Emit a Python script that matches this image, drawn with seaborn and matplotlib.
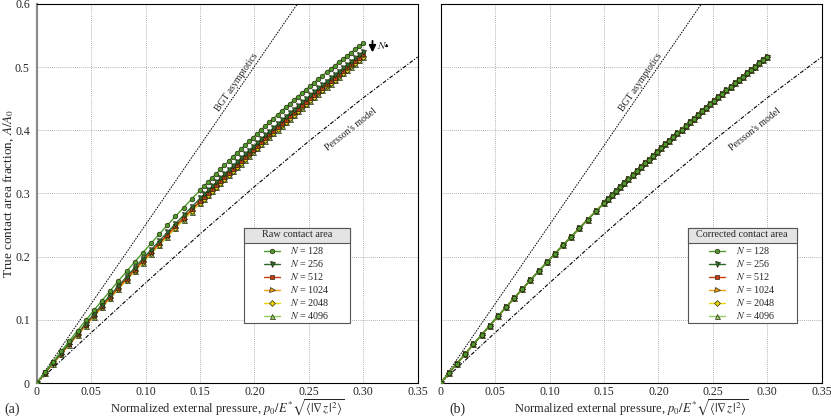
import numpy as np
import pandas as pd
import seaborn as sns
import matplotlib.pyplot as plt
from matplotlib.patches import Rectangle
from matplotlib.lines import Line2D

sns.set_style("white")
plt.rcParams["font.family"] = ["Liberation Serif", "DejaVu Serif"]
plt.rcParams["mathtext.fontset"] = "stix"

# normalized pressure at which the contact area was recorded
pressure = [
    0.0, 0.0075, 0.015, 0.0225, 0.03, 0.0375, 0.045, 0.0525, 0.06, 0.0675,
    0.075, 0.0825, 0.09, 0.0975, 0.105, 0.1125, 0.12, 0.1275, 0.135, 0.1425,
    0.15, 0.15375, 0.1575, 0.16125, 0.165, 0.16875, 0.1725, 0.17625, 0.18,
    0.18375, 0.1875, 0.19125, 0.195, 0.19875, 0.2025, 0.20625, 0.21, 0.21375,
    0.2175, 0.22125, 0.225, 0.22875, 0.2325, 0.23625, 0.24, 0.24375, 0.2475,
    0.25125, 0.255, 0.25875, 0.2625, 0.26625, 0.27, 0.27375, 0.2775, 0.28125,
    0.285, 0.28875, 0.2925, 0.29625, 0.3,
]

raw_128 = [
    0.0, 0.0170, 0.0337, 0.0503, 0.0668, 0.0830, 0.0990, 0.1149, 0.1306, 0.1461,
    0.1615, 0.1766, 0.1916, 0.2064, 0.2210, 0.2355, 0.2497, 0.2638, 0.2777, 0.2914,
    0.3050, 0.3117, 0.3183, 0.3249, 0.3315, 0.3380, 0.3445, 0.3509, 0.3573,
    0.3636, 0.3699, 0.3762, 0.3824, 0.3886, 0.3947, 0.4007, 0.4068, 0.4128,
    0.4187, 0.4246, 0.4304, 0.4362, 0.4420, 0.4477, 0.4534, 0.4590, 0.4646,
    0.4701, 0.4756, 0.4810, 0.4864, 0.4918, 0.4971, 0.5023, 0.5076, 0.5127,
    0.5178, 0.5229, 0.5280, 0.5330, 0.5379,
]
raw_256 = [
    0.0, 0.0160, 0.0319, 0.0476, 0.0632, 0.0786, 0.0939, 0.1090, 0.1240, 0.1389,
    0.1535, 0.1681, 0.1824, 0.1967, 0.2107, 0.2247, 0.2384, 0.2521, 0.2656, 0.2789,
    0.2921, 0.2986, 0.3051, 0.3115, 0.3180, 0.3243, 0.3307, 0.3370, 0.3433,
    0.3495, 0.3557, 0.3619, 0.3680, 0.3741, 0.3801, 0.3861, 0.3921, 0.3980,
    0.4039, 0.4098, 0.4156, 0.4214, 0.4271, 0.4328, 0.4385, 0.4441, 0.4497,
    0.4553, 0.4608, 0.4663, 0.4717, 0.4771, 0.4825, 0.4879, 0.4931, 0.4984,
    0.5036, 0.5088, 0.5140, 0.5191, 0.5241,
]
raw_512 = [
    0.0, 0.0157, 0.0313, 0.0468, 0.0621, 0.0773, 0.0923, 0.1072, 0.1219, 0.1366,
    0.1510, 0.1654, 0.1796, 0.1936, 0.2075, 0.2213, 0.2349, 0.2484, 0.2618, 0.2750,
    0.2881, 0.2945, 0.3010, 0.3074, 0.3138, 0.3201, 0.3264, 0.3327, 0.3390,
    0.3452, 0.3513, 0.3575, 0.3636, 0.3696, 0.3757, 0.3817, 0.3876, 0.3935,
    0.3994, 0.4053, 0.4111, 0.4169, 0.4226, 0.4283, 0.4340, 0.4397, 0.4453,
    0.4509, 0.4564, 0.4619, 0.4674, 0.4728, 0.4782, 0.4836, 0.4889, 0.4942,
    0.4995, 0.5047, 0.5099, 0.5150, 0.5201,
]
raw_1024 = [
    0.0, 0.0156, 0.0311, 0.0465, 0.0617, 0.0768, 0.0917, 0.1065, 0.1211, 0.1358,
    0.1501, 0.1644, 0.1785, 0.1924, 0.2063, 0.2200, 0.2335, 0.2470, 0.2603, 0.2735,
    0.2865, 0.2929, 0.2994, 0.3057, 0.3121, 0.3184, 0.3246, 0.3309, 0.3372,
    0.3433, 0.3494, 0.3556, 0.3617, 0.3677, 0.3738, 0.3798, 0.3857, 0.3915,
    0.3974, 0.4033, 0.4091, 0.4149, 0.4205, 0.4262, 0.4319, 0.4376, 0.4432,
    0.4488, 0.4543, 0.4598, 0.4652, 0.4706, 0.4760, 0.4814, 0.4867, 0.4920,
    0.4973, 0.5025, 0.5077, 0.5128, 0.5179,
]
raw_2048 = [
    0.0, 0.0155, 0.0309, 0.0462, 0.0613, 0.0763, 0.0911, 0.1058, 0.1204, 0.1350,
    0.1493, 0.1635, 0.1776, 0.1914, 0.2053, 0.2189, 0.2324, 0.2459, 0.2591, 0.2723,
    0.2853, 0.2917, 0.2982, 0.3045, 0.3109, 0.3172, 0.3234, 0.3297, 0.3360,
    0.3421, 0.3482, 0.3544, 0.3605, 0.3665, 0.3726, 0.3786, 0.3845, 0.3903,
    0.3962, 0.4021, 0.4079, 0.4137, 0.4193, 0.4250, 0.4307, 0.4364, 0.4420,
    0.4476, 0.4531, 0.4586, 0.4640, 0.4694, 0.4748, 0.4802, 0.4855, 0.4908,
    0.4961, 0.5013, 0.5065, 0.5116, 0.5167,
]
raw_4096 = [
    0.0, 0.0154, 0.0307, 0.0459, 0.0609, 0.0758, 0.0905, 0.1052, 0.1197, 0.1342,
    0.1485, 0.1627, 0.1767, 0.1905, 0.2044, 0.2180, 0.2315, 0.2450, 0.2582, 0.2714,
    0.2845, 0.2909, 0.2974, 0.3037, 0.3101, 0.3164, 0.3226, 0.3289, 0.3352,
    0.3413, 0.3474, 0.3536, 0.3597, 0.3657, 0.3718, 0.3778, 0.3837, 0.3895,
    0.3954, 0.4013, 0.4071, 0.4129, 0.4185, 0.4242, 0.4299, 0.4356, 0.4412,
    0.4468, 0.4523, 0.4578, 0.4632, 0.4686, 0.4740, 0.4794, 0.4847, 0.4900,
    0.4953, 0.5005, 0.5057, 0.5108, 0.5159,
]
# after correction all resolutions collapse onto one curve
corrected_area = [
    0.0, 0.0155, 0.0308, 0.0460, 0.0611, 0.0761, 0.0909, 0.1056, 0.1201, 0.1345,
    0.1488, 0.1630, 0.1770, 0.1909, 0.2047, 0.2183, 0.2318, 0.2452, 0.2585, 0.2716,
    0.2845, 0.2910, 0.2974, 0.3038, 0.3101, 0.3164, 0.3227, 0.3289, 0.3352,
    0.3413, 0.3475, 0.3536, 0.3597, 0.3657, 0.3717, 0.3777, 0.3837, 0.3896,
    0.3955, 0.4013, 0.4071, 0.4129, 0.4187, 0.4244, 0.4301, 0.4357, 0.4413,
    0.4469, 0.4525, 0.4580, 0.4635, 0.4689, 0.4744, 0.4798, 0.4851, 0.4904,
    0.4957, 0.5010, 0.5062, 0.5114, 0.5166,
]

bgt_p = [0.0, 0.35]
bgt_area = [0.0, 0.877]
persson_p = [0.0, 0.05, 0.10, 0.15, 0.20, 0.25, 0.30, 0.35]
persson_area = [0.0, 0.0797, 0.1585, 0.2358, 0.3108, 0.3829, 0.4515, 0.5161]

sizes = [128, 256, 512, 1024, 2048, 4096]
raw_series = [raw_128, raw_256, raw_512, raw_1024, raw_2048, raw_4096]
colors = ["#4f9a2c", "#2f6a2f", "#cc3d12", "#f2a115", "#ecd60a", "#97cc63"]
markers = ["o", "v", "s", ">", "D", "^"]
msizes = [3.3, 3.6, 3.0, 3.6, 3.0, 3.6]

raw_df = pd.concat(
    [pd.DataFrame({"p": pressure, "area": a, "N": n}) for n, a in zip(sizes, raw_series)]
)
corr_df = pd.concat(
    [pd.DataFrame({"p": pressure, "area": corrected_area, "N": n}) for n in sizes]
)

fig = plt.figure(figsize=(8.31, 4.19), dpi=100)
ax1 = fig.add_axes([0.0442, 0.0859, 0.4584, 0.9046])
ax2 = fig.add_axes([0.5303, 0.0859, 0.4585, 0.9046])


def draw_panel(ax, df):
    ax.plot(bgt_p, bgt_area, color="black", lw=0.7, ls=(0, (1.6, 1.2)), zorder=2)
    ax.plot(persson_p, persson_area, color="black", lw=0.8,
            ls=(0, (3.5, 1.5, 1, 1.5)), zorder=2)
    # largest N first so the coarse grids end up on top
    for k, i in enumerate(range(5, -1, -1)):
        sub = df[df["N"] == sizes[i]]
        sns.lineplot(data=sub, x="p", y="area", ax=ax, color=colors[i],
                     marker=markers[i], markersize=msizes[i], markeredgecolor="#2a2a10",
                     markeredgewidth=0.5, lw=1.0, sort=False, zorder=3 + k * 0.01)
    ax.set_xlim(0, 0.35)
    ax.set_ylim(0, 0.6)
    ax.set_xticks([0, 0.05, 0.10, 0.15, 0.20, 0.25, 0.30, 0.35])
    ax.set_xticklabels(["0", "0.05", "0.10", "0.15", "0.20", "0.25", "0.30", "0.35"])
    ax.set_yticks([0, 0.1, 0.2, 0.3, 0.4, 0.5, 0.6])
    ax.grid(True, color="#9a9a9a", ls=(0, (1, 1.5)), lw=0.6)
    ax.tick_params(labelsize=8.5, length=0, pad=2.5)
    for s in ax.spines.values():
        s.set_color("black")
        s.set_linewidth(0.8)
    ax.set_xlabel(r"Normalized external pressure, $p_0/E^{*}\sqrt{\langle|\nabla z\,|^2\rangle}$",
                  fontsize=9, va="bottom")
    ax.xaxis.set_label_coords(0.5, -0.0925)
    ax.text(0.184, 0.476, "BGT asymptotics", rotation=55.5, fontsize=7,
            ha="center", va="center")
    ax.text(0.289, 0.402, "Persson's model", rotation=38.5, fontsize=7,
            ha="center", va="center")


draw_panel(ax1, raw_df)
draw_panel(ax2, corr_df)

ax1.set_ylabel(r"True contact area fraction, $A/A_0$", fontsize=9.5)
ax1.yaxis.set_label_coords(-0.055, 0.5)
ax1.set_yticklabels(["0", "0.1", "0.2", "0.3", "0.4", "0.5", "0.6"])
ax1.tick_params(axis="y", pad=5)
ax1.spines["left"].set_color("#8a8a8a")
ax1.spines["left"].set_linewidth(1.6)
ax2.set_ylabel("")
ax2.set_yticklabels([])

ax1.annotate("", xy=(0.3085, 0.519), xytext=(0.3085, 0.546),
             arrowprops=dict(arrowstyle="-|>", color="black", lw=1.3, mutation_scale=10))
ax1.text(0.3125, 0.534, r"$N$", fontsize=8, ha="left", va="center")
ax1.annotate("", xy=(0.3215, 0.542), xytext=(0.3215, 0.528),
             arrowprops=dict(arrowstyle="-|>", color="black", lw=0.6, mutation_scale=4))

fig.text(0.005, 0.008, "(a)", fontsize=10, va="bottom")
fig.text(0.541, 0.008, "(b)", fontsize=10, va="bottom")


def boxed_legend(ax, title, x0, x1):
    top, header, bottom = 0.409, 0.369, 0.158
    ax.add_patch(Rectangle((x0, bottom), x1 - x0, top - bottom, transform=ax.transAxes,
                           facecolor="white", edgecolor="#555555", lw=0.8, zorder=5))
    ax.add_patch(Rectangle((x0, header), x1 - x0, top - header, transform=ax.transAxes,
                           facecolor="#e4e4e4", edgecolor="#555555", lw=0.8, zorder=5.1))
    handles = [
        Line2D([], [], color=colors[i], marker=markers[i], markersize=msizes[i],
               markeredgecolor="#2a2a10", markeredgewidth=0.5, lw=1.0)
        for i in range(6)
    ]
    labels = [f"$N$ = {n}" for n in sizes]
    leg = ax.legend(handles, labels, title=title, loc="upper center",
                    bbox_to_anchor=((x0 + x1) / 2, top + 0.008), frameon=False,
                    fontsize=7.3, title_fontsize=7.3, handlelength=1.6,
                    handletextpad=1.0, labelspacing=0.2, borderpad=0.4)
    leg.get_title().set_position((0, 4))
    leg.set_zorder(6)


boxed_legend(ax1, "Raw contact area", 0.544, 0.822)
boxed_legend(ax2, "Corrected contact area", 0.648, 0.935)

fig.savefig("out.png", dpi=100)
